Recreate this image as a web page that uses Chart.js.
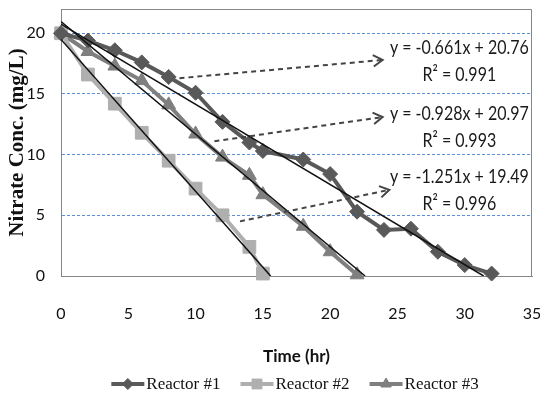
<!DOCTYPE html>
<html><head><meta charset="utf-8">
<script src="https://cdn.jsdelivr.net/npm/chart.js@4.4.1/dist/chart.umd.min.js"></script>
<style>html,body{margin:0;padding:0;background:#fff}#wrap{width:540px;height:394px;position:relative}</style>
</head><body><div id="wrap"><canvas id="c"></canvas></div>
<script>
// ---- data ----
const seriesNames = ['Reactor #1', 'Reactor #2', 'Reactor #3'];
const r1Time = [0, 2, 4, 6, 8, 10, 12, 14, 15, 18, 20, 22, 24, 26, 28, 30, 32];
const r1Conc = [20.0, 19.4, 18.6, 17.6, 16.4, 15.1, 12.7, 11.0, 10.3, 9.6, 8.4, 5.3, 3.8, 3.9, 2.0, 0.9, 0.2];
const r2Time = [0, 2, 4, 6, 8, 10, 12, 14, 15];
const r2Conc = [20.0, 16.6, 14.2, 11.8, 9.5, 7.2, 5.0, 2.4, 0.2];
const r3Time = [0, 2, 4, 6, 8, 10, 12, 14, 15, 18, 20, 22];
const r3Conc = [20.0, 18.5, 17.3, 16.1, 14.1, 11.7, 9.8, 8.3, 6.7, 4.1, 2.0, 0.1];
// linear fits shown on the chart (R1, R2, R3)
const fitSlope = [-0.661, -1.251, -0.928];
const fitIntercept = [20.76, 19.49, 20.97];
const fitR2 = ['0.991', '0.996', '0.993'];
const xTicks = [0, 5, 10, 15, 20, 25, 30, 35];
const yTicks = [0, 5, 10, 15, 20];

// ---- styles ----
const colors = ['#595959', '#AFAFAF', '#7F7F7F'];
const styles = ['rectRot', 'rect', 'triangle'];
const radii = [7.5, 9, 8];
const sans = "Lato,'Liberation Sans',sans-serif";
const serif = "'Liberation Serif','Times New Roman',serif";

// annotation placement (data coordinates) for each fit: arrow start, arrow end, label centre
const notes = [
  {fit: 0, from: [8.8, 16.3], to: [23.9, 17.8], at: [29.6, 18.8]},
  {fit: 2, from: [11.4, 11.1], to: [23.9, 13.1], at: [29.6, 13.4]},
  {fit: 1, from: [13.3, 4.5], to: [24.4, 7.1], at: [29.6, 8.2]}
];

const pts = (xs, ys) => xs.map((x, i) => ({x, y: ys[i]}));
const series = [pts(r1Time, r1Conc), pts(r2Time, r2Conc), pts(r3Time, r3Conc)];

const trendSets = fitSlope.map((m, i) => ({
  label: 'fit' + i,
  data: [{x: 0, y: fitIntercept[i]}, {x: -fitIntercept[i] / m, y: 0}],
  showLine: true, borderColor: '#111', borderWidth: 1.5, pointRadius: 0
}));
const mainSets = series.map((d, i) => ({
  label: seriesNames[i], data: d, showLine: true,
  borderColor: colors[i], backgroundColor: colors[i], borderWidth: 4,
  pointStyle: styles[i], pointRadius: radii[i], pointBackgroundColor: colors[i],
  pointBorderColor: colors[i], pointBorderWidth: 1, clip: false
}));

function stretchedText(ctx, text, x, y, sy) {
  ctx.save();
  ctx.translate(x, y); ctx.scale(1, sy);
  ctx.fillText(text, 0, 0);
  ctx.restore();
}

const extras = {
  id: 'extras',
  beforeDatasetsDraw(chart) {
    const {ctx, chartArea: a} = chart;
    ctx.save();
    ctx.strokeStyle = '#868686'; ctx.lineWidth = 1;
    ctx.beginPath();
    ctx.moveTo(Math.round(a.left), Math.round(a.top) + 0.5);
    ctx.lineTo(Math.round(a.right) - 0.5, Math.round(a.top) + 0.5);
    ctx.lineTo(Math.round(a.right) - 0.5, a.bottom);
    ctx.stroke();
    ctx.restore();
  },
  afterDraw(chart) {
    const {ctx} = chart;
    const xs = chart.scales.x, ys = chart.scales.y;
    ctx.save();
    notes.forEach(n => {
      const x1 = xs.getPixelForValue(n.from[0]), y1 = ys.getPixelForValue(n.from[1]);
      const x2 = xs.getPixelForValue(n.to[0]), y2 = ys.getPixelForValue(n.to[1]);
      ctx.strokeStyle = '#444'; ctx.lineWidth = 2; ctx.setLineDash([5, 4]);
      ctx.beginPath(); ctx.moveTo(x1, y1); ctx.lineTo(x2, y2); ctx.stroke();
      ctx.setLineDash([]);
      const ang = Math.atan2(y2 - y1, x2 - x1), L = 11, w = 0.55;
      ctx.beginPath();
      ctx.moveTo(x2 - L * Math.cos(ang - w), y2 - L * Math.sin(ang - w));
      ctx.lineTo(x2, y2);
      ctx.lineTo(x2 - L * Math.cos(ang + w), y2 - L * Math.sin(ang + w));
      ctx.stroke();
      const cx = xs.getPixelForValue(n.at[0]), cy = ys.getPixelForValue(n.at[1]);
      const m = fitSlope[n.fit], b = fitIntercept[n.fit];
      ctx.fillStyle = '#1a1a1a'; ctx.font = '16px ' + sans;
      ctx.textAlign = 'center'; ctx.textBaseline = 'middle';
      stretchedText(ctx, 'y = ' + m.toFixed(3) + 'x + ' + b.toFixed(2), cx, cy, 1.25);
      stretchedText(ctx, 'R² = ' + fitR2[n.fit], cx, cy + 27, 1.25);
    });
    // legend
    ctx.font = '17px ' + serif; ctx.textBaseline = 'middle'; ctx.textAlign = 'left';
    const lineW = 33, gapT = 2, gapI = 20, ly = 384;
    const widths = seriesNames.map(s => ctx.measureText(s).width);
    const total = widths.reduce((s, w) => s + w + lineW + gapT, 0) + gapI * 2;
    let x = 295 - total / 2;
    seriesNames.forEach((s, i) => {
      ctx.strokeStyle = colors[i]; ctx.lineWidth = 4;
      ctx.beginPath(); ctx.moveTo(x, ly); ctx.lineTo(x + lineW, ly); ctx.stroke();
      ctx.fillStyle = colors[i]; ctx.strokeStyle = colors[i]; ctx.lineWidth = 1;
      Chart.helpers.drawPoint(ctx, {pointStyle: styles[i], radius: radii[i] - 2, borderWidth: 1}, x + lineW / 2, ly);
      ctx.fillStyle = '#111';
      ctx.fillText(s, x + lineW + gapT, ly + 1);
      x += lineW + gapT + widths[i] + gapI;
    });
    ctx.restore();
  }
};

new Chart(document.getElementById('c'), {
  type: 'scatter',
  data: {datasets: [...trendSets, ...mainSets]},
  options: {
    responsive: true, maintainAspectRatio: false, animation: false, devicePixelRatio: 1,
    layout: {autoPadding: false, padding: {top: 9, right: 8, bottom: 24, left: 0}},
    plugins: {legend: {display: false}, tooltip: {enabled: false}},
    scales: {
      x: {
        type: 'linear', min: 0, max: 35,
        afterBuildTicks: s => { s.ticks = xTicks.map(v => ({value: v})); },
        afterFit: s => { s.height = 94; s.paddingLeft = 0; s.paddingRight = 0; },
        grid: {display: false, drawTicks: false},
        border: {color: '#868686', width: 1},
        ticks: {padding: 28, color: '#111', font: {family: sans, size: 16}},
        title: {display: true, text: 'Time (hr)', color: '#111', font: {family: sans, size: 17, weight: 'bold'}, padding: {top: 0, bottom: 3}}
      },
      y: {
        type: 'linear', min: 0, max: 22,
        afterBuildTicks: s => { s.ticks = yTicks.map(v => ({value: v})); },
        afterFit: s => { s.width = 61; s.paddingTop = 0; s.paddingBottom = 0; },
        grid: {drawTicks: false, color: c => c.tick && c.tick.value === 0 ? 'rgba(0,0,0,0)' : '#5B8FD6', lineWidth: 1},
        border: {color: '#868686', width: 1, dash: [3, 2]},
        ticks: {padding: 16, color: '#111', font: {family: sans, size: 16}},
        title: {display: true, text: 'Nitrate Conc. (mg/L)', color: '#111', font: {family: serif, size: 21, weight: 'bold'}, padding: {top: 5, bottom: 0}}
      }
    }
  },
  plugins: [extras]
});
</script></body></html>
